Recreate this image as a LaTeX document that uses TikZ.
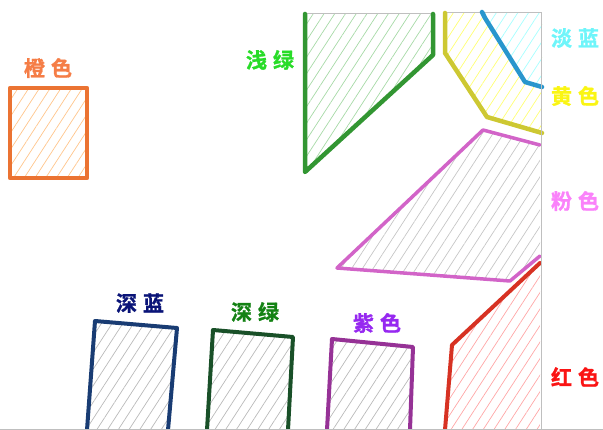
\documentclass[tikz,border=0pt]{standalone}
\usepackage{fontspec}
\newfontfamily\cjk{Noto Sans CJK SC Bold}[FakeBold=1.2]
\usetikzlibrary{patterns.meta}
\definecolor{corange}{RGB}{235,115,50}
\definecolor{lorange}{RGB}{245,125,70}
\definecolor{cgreen}{RGB}{50,150,50}
\definecolor{lgreen}{RGB}{40,220,40}
\definecolor{cyel}{RGB}{205,200,50}
\definecolor{lyel}{RGB}{250,245,20}
\definecolor{cblue}{RGB}{40,150,205}
\definecolor{lcyan}{RGB}{110,245,250}
\definecolor{cpink}{RGB}{210,100,200}
\definecolor{lpink}{RGB}{250,130,250}
\definecolor{cred}{RGB}{215,50,35}
\definecolor{lred}{RGB}{250,20,20}
\definecolor{cdblue}{RGB}{25,60,115}
\definecolor{ldblue}{RGB}{10,20,120}
\definecolor{cdgreen}{RGB}{25,80,40}
\definecolor{ldgreen}{RGB}{20,130,20}
\definecolor{cpurple}{RGB}{150,50,150}
\definecolor{lpurple}{RGB}{150,40,240}
\tikzset{
  hatch/.style={pattern={Lines[angle=57,distance=9pt,line width=0.7pt]},pattern color=#1},
  thin/.style={draw=gray!50,line width=1pt},
  thick edge/.style={draw=#1,line width=4.5pt,line join=round,line cap=round},
  lbl/.style={text=#1,font=\cjk\fontsize{21}{21}\selectfont,inner sep=0pt}
}
\newcommand{\twochar}[2]{#1\hspace{6pt}#2}
\begin{document}
\begin{tikzpicture}[x=1pt,y=-1pt]
\useasboundingbox (0,0) rectangle (603,430);
% orange
\path[fill=white] (10,88) rectangle (87,178);
\path[hatch=orange!45] (10,88) rectangle (87,178);
\draw[thick edge=corange,line width=4.5pt,line cap=butt] (10,88) rectangle (87,178);
\node[lbl=lorange] (l1) at (48,68) {\twochar{橙}{色}};
% light green
\path[hatch=green!40!gray!50] (305,14) -- (433,14) -- (433,55) -- (305,172) -- cycle;
\draw[thin] (305,14) -- (433,14);
\draw[thick edge=cgreen] (433,14) -- (433,55) -- (305,172) -- (305,14);
\node[lbl=lgreen] (l2) at (270,60) {\twochar{浅}{绿}};
% yellow
\path[hatch=yellow!55] (445,13) -- (542,13) -- (542,133) -- (487,117) -- (445,53) -- cycle;
% light blue
\path[fill=white] (482,13) -- (542,13) -- (542,87) -- (525,82) -- (485,18) -- cycle;
\path[hatch=cyan!35] (482,13) -- (542,13) -- (542,87) -- (525,82) -- (485,18) -- cycle;
\draw[thin] (445,13) -- (542,13);
\draw[thick edge=cyel] (445,13) -- (445,53) -- (487,117) -- (542,133);
\draw[thick edge=cblue] (482,12) -- (485,18) -- (525,82) -- (542,87);
\node[lbl=lcyan] (l3) at (575,38) {\twochar{淡}{蓝}};
\node[lbl=lyel] (l4) at (575,96) {\twochar{黄}{色}};
% pink
\path[hatch=gray!45] (337,268) -- (483,130) -- (540,145) -- (540,256) -- (510,281) -- cycle;
\draw[thick edge=cpink,line width=3.5pt] (540,256) -- (510,281) -- (337,268) -- (483,130) -- (540,145);
\node[lbl=lpink] (l5) at (575,201) {\twochar{粉}{色}};
% red
\path[hatch=red!35] (540,263) -- (540,430) -- (445,430) -- (452,345) -- cycle;
\draw[thick edge=cred,line width=4pt] (445,430) -- (452,345) -- (540,263);
\node[lbl=lred] (l6) at (575,377) {\twochar{红}{色}};
% right border line
\draw[thin] (541,13) -- (541,430);
% deep blue
\path[hatch=gray!55] (95,321) -- (177,328) -- (168,430) -- (87,430) -- cycle;
\draw[thick edge=cdblue,line width=4pt] (87,430) -- (95,321) -- (177,328) -- (168,430);
\node[lbl=ldblue] (l7) at (140,303) {\twochar{深}{蓝}};
% deep green
\path[hatch=gray!55] (213,330) -- (293,337) -- (288,430) -- (207,430) -- cycle;
\draw[thick edge=cdgreen,line width=4pt] (207,430) -- (213,330) -- (293,337) -- (288,430);
\node[lbl=ldgreen] (l8) at (255,312) {\twochar{深}{绿}};
% purple
\path[hatch=gray!55] (332,339) -- (413,347) -- (410,430) -- (327,430) -- cycle;
\draw[thick edge=cpurple,line width=4pt] (327,430) -- (332,339) -- (413,347) -- (410,430);
\node[lbl=lpurple] (l9) at (377,323) {\twochar{紫}{色}};
% bottom line
\draw[thin] (0,429.5) -- (603,429.5);
\end{tikzpicture}
\end{document}
